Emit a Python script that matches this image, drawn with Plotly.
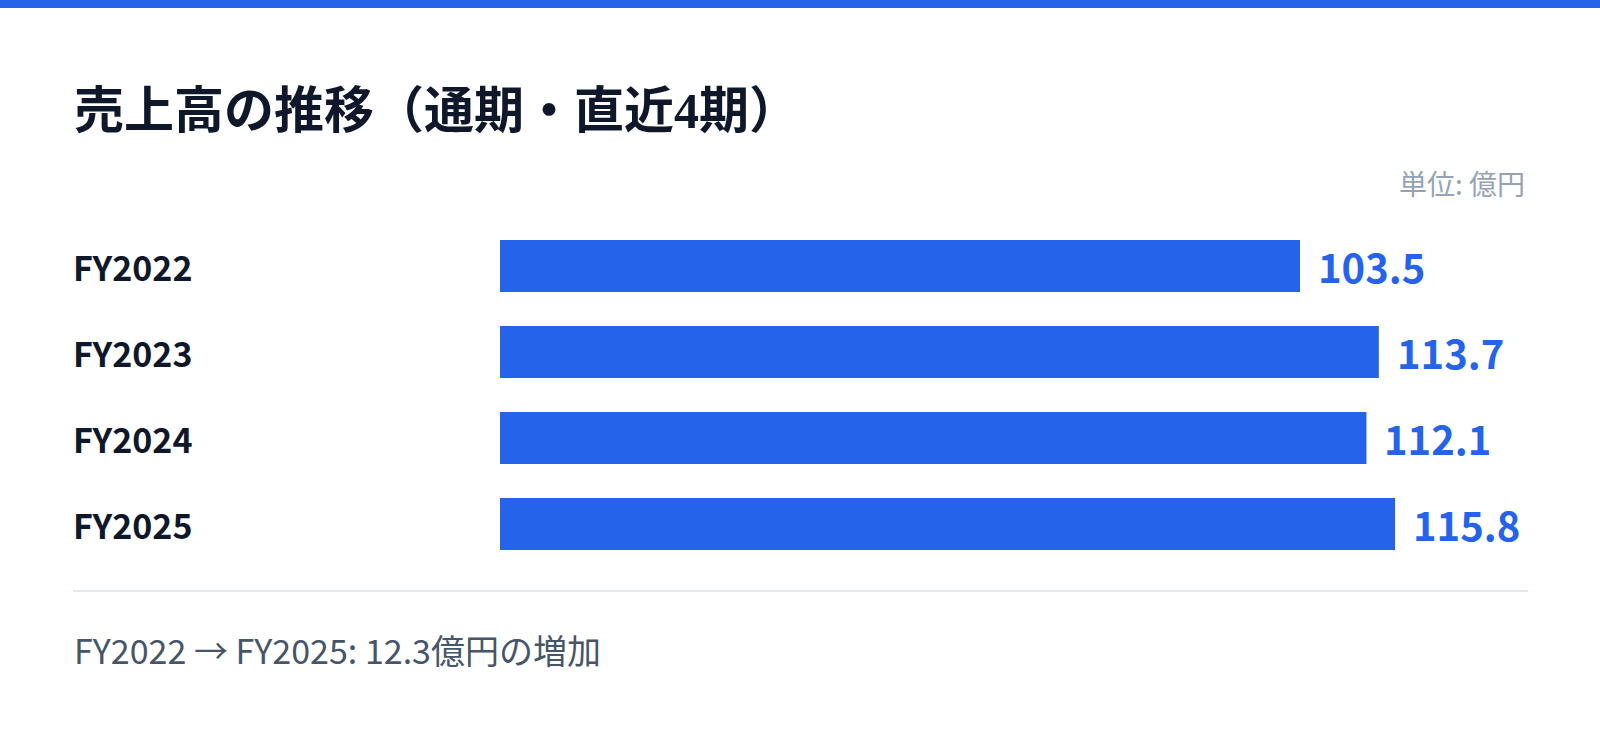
import plotly.graph_objects as go

# 売上高（億円）
periods = ["FY2022", "FY2023", "FY2024", "FY2025"]
sales = [103.5, 113.7, 112.1, 115.8]
title_text = "売上高の推移（通期・直近4期）"
unit_text = "単位: 億円"
footer_text = "FY2022 → FY2025: 12.3億円の増加"

BLUE = "#2563eb"
W, H = 1600, 733
ML, MR, MT, MB = 500, 72, 223, 166
PW = W - ML - MR
PH = H - MT - MB
FONT = "Noto Sans CJK JP, Noto Sans, sans-serif"


def px_x(p):
    return (p - ML) / PW


def px_y(p):
    return (H - MB - p) / PH


fig = go.Figure()
fig.add_trace(go.Bar(
    x=sales,
    y=periods,
    orientation="h",
    width=0.605,
    marker=dict(color=BLUE, line=dict(width=0)),
    hoverinfo="skip",
    showlegend=False,
))

ann = []
for p, v in zip(periods, sales):
    ann.append(dict(x=px_x(71), xref="paper", y=p, yref="y", text=f"<b>{p}</b>",
                    xanchor="left", yanchor="middle", showarrow=False,
                    font=dict(family=FONT, size=34, color="#0f172a")))
    ann.append(dict(x=v, xref="x", y=p, yref="y", text=f"<b>{v:.1f}</b>",
                    xanchor="left", yanchor="middle", xshift=16, showarrow=False,
                    font=dict(family=FONT, size=40, color=BLUE)))

ann.append(dict(x=px_x(72), xref="paper", y=px_y(111), yref="paper",
                text=f"<b>{title_text}</b>", xanchor="left", yanchor="middle",
                showarrow=False,
                font=dict(family="Liberation Serif, Noto Sans CJK JP, serif", size=50, color="#0f172a")))
ann.append(dict(x=px_x(1527), xref="paper", y=px_y(183), yref="paper",
                text=unit_text, xanchor="right", yanchor="middle", showarrow=False,
                font=dict(family=FONT, size=28, color="#94a3b8")))
ann.append(dict(x=px_x(72), xref="paper", y=px_y(649), yref="paper",
                text=footer_text, xanchor="left", yanchor="middle", showarrow=False,
                font=dict(family=FONT, size=34, color="#475569")))

shapes = [
    dict(type="rect", xref="paper", yref="paper", x0=px_x(0), x1=px_x(W),
         y0=px_y(8), y1=px_y(0), fillcolor=BLUE, line=dict(width=0), layer="below"),
    dict(type="line", xref="paper", yref="paper", x0=px_x(73), x1=px_x(1528),
         y0=px_y(591), y1=px_y(591), line=dict(color="#e2e8f0", width=2)),
]

fig.update_layout(
    width=W, height=H,
    margin=dict(l=ML, r=MR, t=MT, b=MB),
    paper_bgcolor="white", plot_bgcolor="white",
    xaxis=dict(range=[0, 133], visible=False, fixedrange=True),
    yaxis=dict(categoryorder="array", categoryarray=periods, autorange="reversed",
               visible=False, fixedrange=True),
    annotations=ann,
    shapes=shapes,
    font=dict(family=FONT),
)

fig.write_html("out.html", config={"displayModeBar": False},
               post_script="document.body.style.margin='0';")
